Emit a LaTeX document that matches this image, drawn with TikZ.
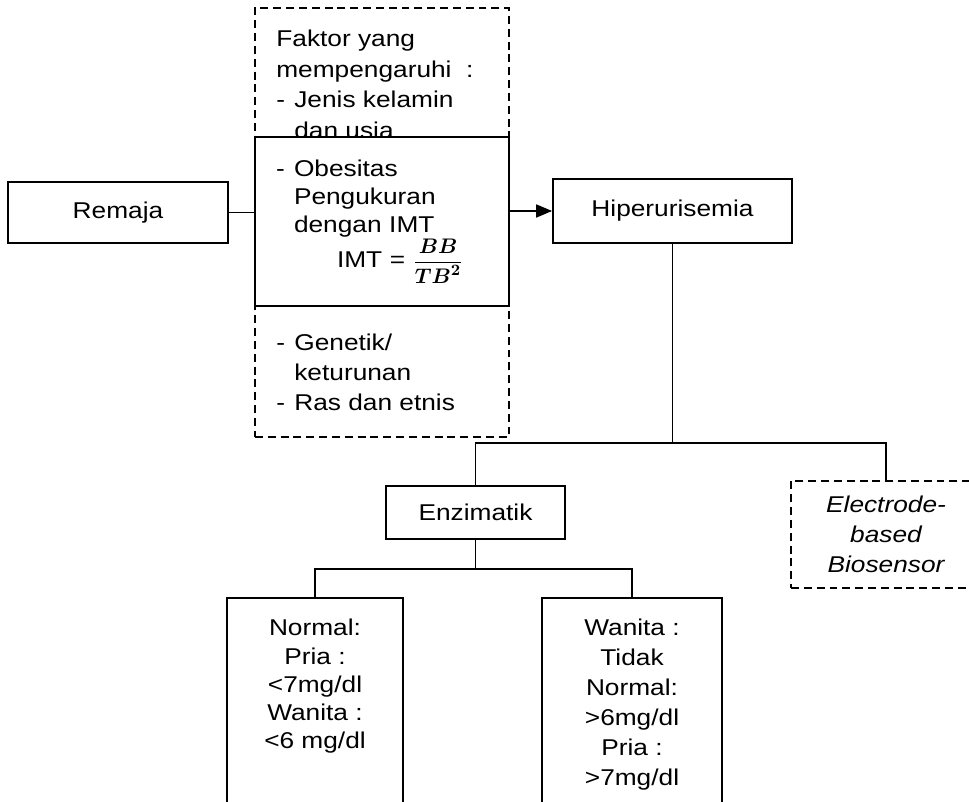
\documentclass[tikz,border=0pt]{standalone}
\usepackage{amsmath}
\usepackage{fontspec}
\setmainfont{Liberation Sans}[FakeStretch=1.15]
\usetikzlibrary{arrows.meta}

\begin{document}
\begin{tikzpicture}[
    every node/.style={font=\fontsize{13}{16.5}\selectfont},
    box/.style={draw, rectangle, line width=1pt, inner sep=0pt},
    dbox/.style={box, dash pattern=on 4.5pt off 2.8pt},
    link/.style={line width=1pt}]
    \useasboundingbox (0,0) rectangle (19.38,16.02);
    \clip (0,0) rectangle (19.38,16.02);
    % faktor yang mempengaruhi
    \node[dbox, minimum width=5.08cm, minimum height=8.58cm] (faktor) at (7.64,11.57) {};
    \node[anchor=north west, inner sep=0pt, align=left, font=\fontsize{13}{17.5}\selectfont] (faktoratas) at (5.52,15.43) {Faktor yang\\mempengaruhi~~:\\\makebox[0.36cm][l]{-}Jenis kelamin\\\hspace*{0.36cm}dan usia};
    \node[anchor=north west, inner sep=0pt, align=left, font=\fontsize{13}{17}\selectfont] (faktorbawah) at (5.52,9.35) {\makebox[0.36cm][l]{-}Genetik/\\\hspace*{0.36cm}keturunan\\\makebox[0.36cm][l]{-}Ras dan etnis};
    \node[box, fill=white, minimum width=5.08cm, minimum height=3.38cm, text width=4.24cm, inner xsep=0.42cm, align=left, font=\fontsize{13}{16}\selectfont] (obesitas) at (7.64,11.59) {\makebox[0.36cm][l]{-}Obesitas\\\hspace*{0.36cm}Pengukuran\\\hspace*{0.36cm}dengan IMT\\\hspace*{1.22cm}IMT = $\dfrac{\boldsymbol{BB}}{\boldsymbol{TB^2}}$};
    % baris atas
    \node[box, minimum width=4.4cm, minimum height=1.22cm] (remaja) at (2.36,11.77) {Remaja};
    \node[box, minimum width=4.78cm, minimum height=1.28cm] (hiper) at (13.45,11.8) {Hiperurisemia};
    % pemeriksaan
    \node[box, minimum width=3.58cm, minimum height=1.06cm] (enzim) at (9.51,5.77) {Enzimatik};
    \node[dbox, minimum width=3.8cm, minimum height=2.14cm, align=center, font=\fontsize{13}{17}\selectfont\itshape] (biosensor) at (17.72,5.33) {Electrode-\\based\\Biosensor};
    % hasil
    \node[box, minimum width=3.52cm, minimum height=5cm, anchor=north] (normal) at (6.3,4.08) {};
    \node[anchor=north, inner sep=0pt, align=center, font=\fontsize{13}{16}\selectfont] (normalteks) at (6.3,3.64) {Normal:\\Pria :\\<7mg/dl\\Wanita :\\<6 mg/dl};
    \node[box, minimum width=3.6cm, minimum height=5cm, anchor=north] (tidak) at (12.64,4.08) {};
    \node[anchor=north, inner sep=0pt, align=center, font=\fontsize{13}{17}\selectfont] (tidakteks) at (12.64,3.64) {Wanita :\\Tidak\\Normal:\\>6mg/dl\\Pria :\\>7mg/dl};
    % garis
    \draw[link] (remaja.east) -- (remaja.east -| obesitas.west);
    \draw[link, -{Triangle[length=0.32cm, width=0.26cm]}] (hiper.west -| obesitas.east) -- (hiper.west);
    \coordinate (cabang) at (0,7.16);
    \draw[link] (hiper.south) -- (hiper.south |- cabang);
    \draw[link] (enzim.north) -- (enzim.north |- cabang) -- (biosensor.north |- cabang) -- (biosensor.north);
    \coordinate (cabangbawah) at (0,4.64);
    \draw[link] (enzim.south) -- (enzim.south |- cabangbawah);
    \draw[link] (normal.north) -- (normal.north |- cabangbawah) -- (tidak.north |- cabangbawah) -- (tidak.north);
\end{tikzpicture}
\end{document}
